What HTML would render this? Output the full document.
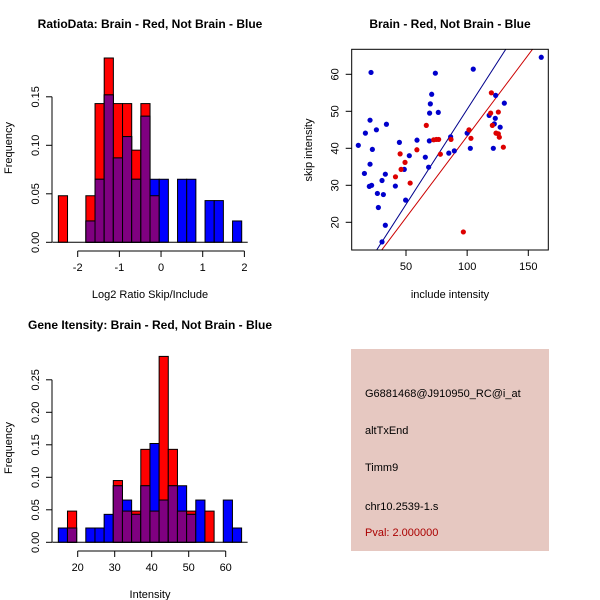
<!DOCTYPE html>
<html><head><meta charset="utf-8"><style>
body{margin:0;background:#fff}
svg{display:block;font-family:"Liberation Sans",Arial,sans-serif}
</style></head><body>
<svg id="c" width="600" height="600" viewBox="0 0 600 600">
<rect width="600" height="600" fill="#fff"/>
<g id="p1"></g>
<g id="p2"></g>
<g id="p3"></g>
<g>
<rect x="351" y="349" width="198" height="202" fill="#e6c8c1"/>
<text x="365" y="397" font-size="11">G6881468@J910950_RC@i_at</text>
<text x="365" y="434" font-size="11">altTxEnd</text>
<text x="365" y="471" font-size="11">Timm9</text>
<text x="365" y="510" font-size="11">chr10.2539-1.s</text>
<text x="365" y="536" font-size="11" fill="#aa0000">Pval: 2.000000</text>
</g>
</svg>
<script>
// ---- Ratio histogram data ----
const ratioStart = -2.464, ratioWidth = 0.22;
const ratioRed  = [0.048,0,0,0.048,0.143,0.19,0.143,0.143,0.095,0.143,0.048,0,0,0,0,0,0,0,0,0];
const ratioBlue = [0,0,0,0.022,0.065,0.152,0.087,0.109,0.065,0.13,0.065,0.065,0,0.065,0.065,0,0.043,0.043,0,0.022];
const ratioXTicks = [-2,-1,0,1,2];
const ratioYTicks = ["0.00","0.05","0.10","0.15"];
// ---- Intensity histogram data ----
const intStart = 14.76, intWidth = 2.477;
const intRed  = [0,0.048,0,0,0,0,0.095,0.048,0.048,0.143,0.048,0.286,0.143,0.048,0.048,0,0.048,0,0,0];
const intBlue = [0.022,0.022,0,0.022,0.022,0.043,0.087,0.065,0.043,0.087,0.152,0.065,0.087,0.087,0.043,0.065,0,0,0.065,0.022];
const intXTicks = [20,30,40,50,60];
const intYTicks = ["0.00","0.05","0.10","0.15","0.20","0.25"];
// ---- Scatter data ----
const blueX = [11,16,16.8,21.4,20.6,20.6,20,21.9,22.5,25.8,26.6,27.4,30.4,31.5,33.1,33.1,34,30.4,41.3,44.6,48.6,49.7,52.7,59,65.8,68.5,69.1,69.3,69.9,71,74,76.4,85,86.5,89.5,100,102.6,105,118,122.2,121.4,123,123.3,127,130.4,160.6];
const blueY = [40.8,33.2,44.1,60.5,47.6,35.7,29.7,30,39.7,45,27.8,24,31.3,27.5,33,19.2,46.5,14.7,29.8,41.6,34.3,26,38,42.2,37.6,34.9,42,49.5,52,54.6,60.3,49.7,38.7,43.1,39.3,44.1,40,61.4,48.9,46.6,40,48.1,54.3,45.7,52.2,64.6];
const redX = [119.8,119.2,120.6,125.5,123.6,125.5,126.3,129.6,66.6,45.2,41.4,46,49.2,53.4,58.9,72.6,74.8,76.7,78.1,86.8,101.5,103.1,96.9];
const redY = [55,49.5,46.2,43.9,44.1,49.8,43,40.3,46.2,38.5,32.3,34.3,36.2,30.6,39.6,42.3,42.4,42.4,38.4,42.4,45,42.7,17.4];
const blueLine = [-0.86,0.514]; // intercept, slope
const redLine = [-0.75,0.44];
const scXTicks = [50,100,150];
const scYTicks = [20,30,40,50,60];

const NS="http://www.w3.org/2000/svg";
function mk(parent,tag,attrs,name){const e=document.createElementNS(NS,tag);for(const k in attrs)e.setAttribute(k,attrs[k]);


parent.appendChild(e);return e;}
function txt(parent,x,y,s,opts,name){const t=mk(parent,'text',Object.assign({x:x,y:y,'font-size':11,'text-anchor':'middle'},opts||{}),name);t.textContent=s;return t;}

function hist(g,cfg){
  const sx=v=>cfg.x0px+(v-cfg.x0)*cfg.kx, sy=v=>cfg.y0px-v*cfg.ky;
  const n=cfg.red.length;
  for(let i=0;i<n;i++){
    const a=sx(cfg.start+i*cfg.w), b=sx(cfg.start+(i+1)*cfg.w);
    const r=cfg.red[i], bl=cfg.blue[i], m=Math.min(r,bl);
    if(r>0) mk(g,'rect',{x:a,y:sy(r),width:b-a,height:sy(0)-sy(r),fill:'#ff0000',stroke:'#000','stroke-width':1},'red-bar');
    if(bl>0) mk(g,'rect',{x:a,y:sy(bl),width:b-a,height:sy(0)-sy(bl),fill:'#0000ff',stroke:'#000','stroke-width':1},'blue-bar');
    if(m>0) mk(g,'rect',{x:a,y:sy(m),width:b-a,height:sy(0)-sy(m),fill:'#7f0080',stroke:'#000','stroke-width':1},'overlap-bar');
  }
  const l=sx(cfg.start), rr=sx(cfg.start+n*cfg.w);
  mk(g,'line',{x1:l-6,x2:rr+6,y1:sy(0),y2:sy(0),stroke:'#000'},'baseline');
  const xa=cfg.xaxisY;
  mk(g,'line',{x1:sx(cfg.xt[0]),x2:sx(cfg.xt[cfg.xt.length-1]),y1:xa,y2:xa,stroke:'#000'},'x-axis');
  cfg.xt.forEach(t=>{mk(g,'line',{x1:sx(t),x2:sx(t),y1:xa,y2:xa+6,stroke:'#000'},'x-tick');txt(g,sx(t),xa+20,String(t),{},'x-tick-label');});
  const ya=cfg.yaxisX;
  const yv=cfg.yt.map(Number);
  mk(g,'line',{x1:ya,x2:ya,y1:sy(yv[0]),y2:sy(yv[yv.length-1]),stroke:'#000'},'y-axis');
  cfg.yt.forEach(t=>{const y=sy(Number(t));mk(g,'line',{x1:ya-6,x2:ya,y1:y,y2:y,stroke:'#000'},'y-tick');
    txt(g,ya-16,y,t,{transform:`rotate(-90 ${ya-16} ${y})`,'dominant-baseline':'middle'},'y-tick-label');});
  txt(g,cfg.xlabX,cfg.xlabY,cfg.xlab,{},'x-axis-title');
  txt(g,12,cfg.ylabY,'Frequency',{transform:`rotate(-90 12 ${cfg.ylabY})`},'y-axis-title');
  txt(g,cfg.titleX,cfg.titleY,cfg.title,{'font-weight':'bold','font-size':12},'chart-title');
}
hist(document.getElementById('p1'),{start:ratioStart,w:ratioWidth,red:ratioRed,blue:ratioBlue,x0:-2,x0px:77.7,kx:41.67,y0px:242.3,ky:970,
  xt:ratioXTicks,yt:ratioYTicks,xaxisY:251,yaxisX:52,xlab:'Log2 Ratio Skip/Include',xlabX:150,xlabY:298,ylabY:148,title:'RatioData: Brain - Red, Not Brain - Blue',titleX:150,titleY:28});
hist(document.getElementById('p3'),{start:intStart,w:intWidth,red:intRed,blue:intBlue,x0:20,x0px:77.7,kx:3.7,y0px:542.3,ky:650,
  xt:intXTicks,yt:intYTicks,xaxisY:551,yaxisX:52,xlab:'Intensity',xlabX:150,xlabY:598,ylabY:448,title:'Gene Itensity: Brain - Red, Not Brain - Blue',titleX:150,titleY:329});

(function(){
  const g=document.getElementById('p2');
  const L=351.7,R=548.3,T=49.3,B=250;
  const sx=v=>406+(v-50)*1.223, sy=v=>222.3-(v-20)*3.7;
  const cp=mk(g,'clipPath',{id:'scclip'},'clip');
  mk(cp,'rect',{x:L,y:T,width:R-L,height:B-T},'clip-rect');
  function abline(p,col,name){
    const xa=-20,xb=200;
    mk(g,'line',{x1:sx(xa),y1:sy(p[0]+p[1]*xa),x2:sx(xb),y2:sy(p[0]+p[1]*xb),stroke:col,'stroke-width':1,'clip-path':'url(#scclip)'},name);
  }
  abline(blueLine,'#00008b','blue-fit-line');
  abline(redLine,'#cc0000','red-fit-line');
  blueX.forEach((x,i)=>mk(g,'circle',{cx:sx(x),cy:sy(blueY[i]),r:2.6,fill:'#0000cc'},'blue-point'));
  redX.forEach((x,i)=>mk(g,'circle',{cx:sx(x),cy:sy(redY[i]),r:2.6,fill:'#dd0000'},'red-point'));
  mk(g,'rect',{x:L,y:T,width:R-L,height:B-T,fill:'none',stroke:'#000'},'plot-box');
  scXTicks.forEach(t=>{mk(g,'line',{x1:sx(t),x2:sx(t),y1:B,y2:B+6,stroke:'#000'},'x-tick');txt(g,sx(t),B+20,String(t),{},'x-tick-label');});
  scYTicks.forEach(t=>{const y=sy(t);mk(g,'line',{x1:L-6,x2:L,y1:y,y2:y,stroke:'#000'},'y-tick');txt(g,L-16,y,String(t),{transform:`rotate(-90 ${L-16} ${y})`,'dominant-baseline':'middle'},'y-tick-label');});
  txt(g,450,298,'include intensity',{},'x-axis-title');
  txt(g,312,150,'skip intensity',{transform:'rotate(-90 312 150)'},'y-axis-title');
  txt(g,450,28,'Brain - Red, Not Brain - Blue',{'font-weight':'bold','font-size':12},'chart-title');
})();
</script>
</body></html>
